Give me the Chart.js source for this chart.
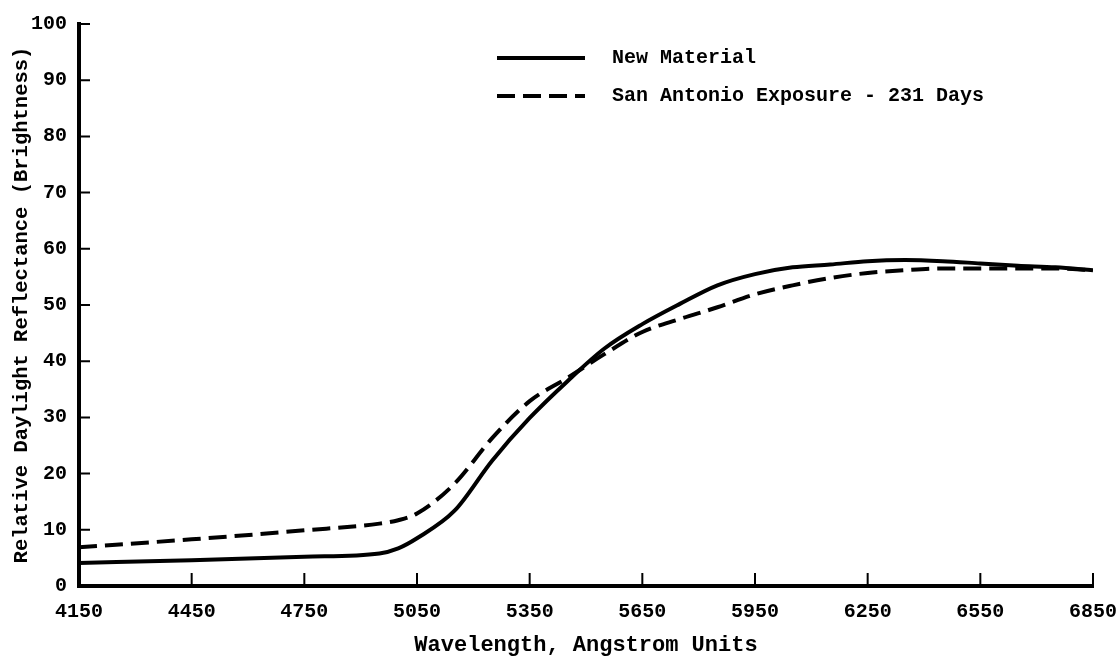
<!DOCTYPE html>
<html>
<head>
<meta charset="utf-8">
<script src="https://cdn.jsdelivr.net/npm/chart.js@4/dist/chart.umd.min.js"></script>
<style>
  html, body { margin: 0; padding: 0; background: #fff; }
  #wrap { width: 1120px; height: 659px; }
</style>
</head>
<body>
<div id="wrap"><canvas id="chart" width="1120" height="659"></canvas></div>
<script>
// wavelength (Angstrom) sample points
const newWave = [4150, 4450, 4750, 4950, 5000, 5050, 5150, 5250, 5350, 5450, 5550, 5650, 5750, 5850, 5950, 6050, 6150, 6250, 6350, 6450, 6550, 6650, 6750, 6850];
const newVals = [4.1, 4.6, 5.2, 5.8, 6.7, 8.5, 13.4, 22.3, 29.9, 36.4, 42.3, 46.6, 50.2, 53.5, 55.5, 56.7, 57.2, 57.8, 58.0, 57.8, 57.4, 57.0, 56.7, 56.2];

const sanWave = [4150, 4450, 4750, 4950, 5000, 5050, 5150, 5250, 5350, 5450, 5550, 5650, 5750, 5850, 5950, 6050, 6150, 6250, 6350, 6450, 6550, 6650, 6750, 6850];
const sanVals = [6.9, 8.3, 9.9, 11.1, 11.7, 12.9, 18.2, 26.3, 32.9, 37.0, 41.3, 45.2, 47.5, 49.6, 51.9, 53.5, 54.8, 55.7, 56.2, 56.5, 56.5, 56.5, 56.5, 56.2];

const xTicks = [4150, 4450, 4750, 5050, 5350, 5650, 5950, 6250, 6550, 6850];
const yTicks = [0, 10, 20, 30, 40, 50, 60, 70, 80, 90, 100];

const seriesNames = ['New Material', 'San Antonio Exposure - 231 Days'];

const toPoints = (xs, ys) => xs.map((x, i) => ({ x: x, y: ys[i] }));

const MONO = "'Liberation Mono', 'DejaVu Sans Mono', monospace";
const TEXT_FONT = "bold 20px " + MONO;

// short tick marks pointing into the plot, and the legend in the upper right
const inwardTicks = {
  id: 'inwardTicks',
  afterDraw(chart) {
    const { ctx, scales: { x, y } } = chart;
    ctx.save();
    ctx.strokeStyle = '#000';
    ctx.lineWidth = 2;
    ctx.beginPath();
    yTicks.forEach(v => {
      if (v === 0) return;
      const py = y.getPixelForValue(v);
      ctx.moveTo(x.left, py);
      ctx.lineTo(x.left + 11, py);
    });
    xTicks.forEach(v => {
      if (v === xTicks[0]) return;
      const px = x.getPixelForValue(v);
      ctx.moveTo(px, y.bottom);
      ctx.lineTo(px, y.bottom - 13);
    });
    ctx.stroke();

    // legend
    const lx = 497, lw = 88, tx = 612;
    const rows = [58, 96];
    chart.data.datasets.forEach((ds, i) => {
      ctx.beginPath();
      ctx.lineWidth = ds.borderWidth;
      ctx.setLineDash(ds.borderDash || []);
      ctx.moveTo(lx, rows[i]);
      ctx.lineTo(lx + lw, rows[i]);
      ctx.stroke();
      ctx.setLineDash([]);
      ctx.fillStyle = '#000';
      ctx.font = TEXT_FONT;
      ctx.textBaseline = 'middle';
      ctx.textAlign = 'left';
      ctx.fillText(ds.label, tx, rows[i]);
    });
    ctx.restore();
  }
};

new Chart(document.getElementById('chart'), {
  type: 'line',
  data: {
    datasets: [
      {
        label: seriesNames[0],
        data: toPoints(newWave, newVals),
        borderColor: '#000',
        borderWidth: 4,
        pointRadius: 0,
        cubicInterpolationMode: 'monotone',
        fill: false
      },
      {
        label: seriesNames[1],
        data: toPoints(sanWave, sanVals),
        borderColor: '#000',
        borderWidth: 4,
        borderDash: [18, 8],
        pointRadius: 0,
        cubicInterpolationMode: 'monotone',
        fill: false
      }
    ]
  },
  options: {
    responsive: false,
    animation: false,
    layout: { padding: { left: 0, right: 27, top: 20, bottom: 0 } },
    plugins: {
      legend: { display: false },
      tooltip: { enabled: false }
    },
    scales: {
      x: {
        type: 'linear',
        min: 4150,
        max: 6850,
        afterBuildTicks(scale) { scale.ticks = xTicks.map(v => ({ value: v })); },
        afterFit(scale) {
          scale.height = 73;
          scale.paddingLeft = 0;
          scale.paddingRight = 0;
        },
        grid: { display: false, drawTicks: false },
        border: { color: '#000', width: 4 },
        ticks: {
          color: '#000',
          padding: 14,
          maxRotation: 0,
          font: { family: MONO, size: 20, weight: 'bold' },
          callback: v => String(v)
        },
        title: {
          display: true,
          text: 'Wavelength, Angstrom Units',
          color: '#000',
          padding: { top: 0, bottom: 0 },
          font: { family: MONO, size: 22, weight: 'bold' }
        }
      },
      y: {
        min: 0,
        max: 100,
        afterBuildTicks(scale) { scale.ticks = yTicks.map(v => ({ value: v })); },
        afterFit(scale) { scale.width = 79; },
        grid: { display: false, drawTicks: false },
        border: { color: '#000', width: 4 },
        ticks: {
          color: '#000',
          padding: 12,
          font: { family: MONO, size: 20, weight: 'bold' }
        },
        title: {
          display: true,
          text: 'Relative Daylight Reflectance (Brightness)',
          color: '#000',
          padding: { top: 10, bottom: 4 },
          font: { family: MONO, size: 20.5, weight: 'bold' }
        }
      }
    }
  },
  plugins: [inwardTicks]
});
</script>
</body>
</html>
